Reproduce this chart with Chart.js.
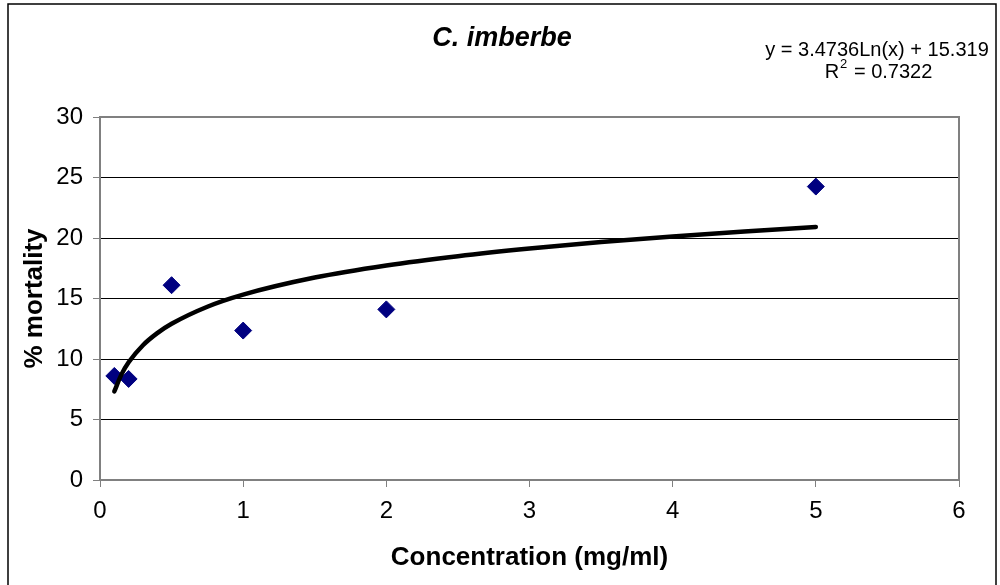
<!DOCTYPE html>
<html>
<head>
<meta charset="utf-8">
<script src="https://cdn.jsdelivr.net/npm/chart.js@4"></script>
<style>
  html, body { margin: 0; padding: 0; background: #fff; }
  #wrap { width: 1000px; height: 585px; position: relative; }
</style>
</head>
<body>
<div id="wrap"><canvas id="chart" width="1000" height="585"></canvas></div>
<script>
// measured points
const concentration = [0.1, 0.2, 0.5, 1, 2, 5];
const mortality = [8.6, 8.35, 16.1, 12.35, 14.1, 24.25];

// log trend line
const trendX = [0.1, 0.15, 0.2, 0.3, 0.4, 0.5, 0.75, 1, 1.5, 2, 2.5, 3, 3.5, 4, 4.5, 5];
const trendY = [7.32, 8.73, 9.73, 11.14, 12.14, 12.91, 14.32, 15.32, 16.73, 17.73, 18.5, 19.13, 19.67, 20.13, 20.54, 20.91];

const xTicks = [0, 1, 2, 3, 4, 5, 6];
const yTicks = [0, 5, 10, 15, 20, 25, 30];

const chartTitle = 'C. imberbe';
const equation = 'y = 3.4736Ln(x) + 15.319';
const rSquared = ['R', '2', ' = 0.7322'];

const FONT = '"Liberation Sans", Arial, sans-serif';
const GRAY = '#808080';

// frame around plot area + outer border + title/equation text
const decorations = {
  id: 'decorations',
  beforeDatasetsDraw(chart) {
    const { ctx, chartArea: a } = chart;
    ctx.save();
    ctx.strokeStyle = GRAY;
    ctx.lineWidth = 2;
    ctx.beginPath();
    ctx.moveTo(a.left, a.top);
    ctx.lineTo(a.right, a.top);
    ctx.lineTo(a.right, a.bottom);
    ctx.stroke();
    ctx.restore();
  },
  afterDraw(chart) {
    const { ctx } = chart;
    ctx.save();
    ctx.strokeStyle = '#000';
    ctx.lineWidth = 1.5;
    ctx.strokeRect(8, 4, 988, 590);

    ctx.fillStyle = '#000';
    ctx.textAlign = 'center';
    ctx.textBaseline = 'middle';
    ctx.font = 'italic bold 27px ' + FONT;
    ctx.fillText(chartTitle, 502, 39);

    ctx.font = '20px ' + FONT;
    ctx.fillText(equation, 877, 50);

    // R² line with a raised small 2
    const big = '20px ' + FONT, small = '13px ' + FONT;
    ctx.font = big;
    const wR = ctx.measureText(rSquared[0]).width;
    const wRest = ctx.measureText(rSquared[2]).width;
    ctx.font = small;
    const w2 = ctx.measureText(rSquared[1]).width + 1;
    let x = 878 - (wR + w2 + wRest) / 2;
    ctx.textAlign = 'left';
    ctx.font = big;
    ctx.fillText(rSquared[0], x, 72);
    x += wR + 1;
    ctx.font = small;
    ctx.fillText(rSquared[1], x, 64);
    x += w2;
    ctx.font = big;
    ctx.fillText(rSquared[2], x, 72);
    ctx.restore();
  }
};

new Chart(document.getElementById('chart'), {
  type: 'scatter',
  data: {
    datasets: [
      {
        label: 'mortality',
        data: concentration.map((x, i) => ({ x: x, y: mortality[i] })),
        backgroundColor: '#000080',
        borderColor: '#000080',
        pointStyle: 'rectRot',
        pointRadius: 8.5,
        pointHoverRadius: 8.5,
        order: 1
      },
      {
        label: 'trend',
        data: trendX.map((x, i) => ({ x: x, y: trendY[i] })),
        showLine: true,
        borderColor: '#000',
        borderWidth: 4.5,
        borderCapStyle: 'round',
        cubicInterpolationMode: 'monotone',
        pointRadius: 0,
        pointHoverRadius: 0,
        order: 0
      }
    ]
  },
  options: {
    responsive: false,
    animation: false,
    events: [],
    layout: { padding: { top: 117, left: 0, right: 41, bottom: 0 } },
    plugins: {
      legend: { display: false },
      title: { display: false },
      tooltip: { enabled: false }
    },
    scales: {
      x: {
        type: 'linear',
        min: 0,
        max: 6,
        afterFit(scale) { scale.height = 105; },
        afterBuildTicks(scale) { scale.ticks = xTicks.map(v => ({ value: v })); },
        border: { color: GRAY, width: 2 },
        grid: { drawOnChartArea: false, drawTicks: true, tickLength: 7, tickColor: GRAY, tickWidth: 1 },
        ticks: { color: '#000', font: { family: FONT, size: 24 }, padding: 10, maxRotation: 0 },
        title: {
          display: true,
          text: 'Concentration (mg/ml)',
          color: '#000',
          font: { family: FONT, size: 26, weight: 'bold' },
          padding: { top: 0, bottom: 12 }
        }
      },
      y: {
        type: 'linear',
        min: 0,
        max: 30,
        afterFit(scale) { scale.width = 100; },
        afterBuildTicks(scale) { scale.ticks = yTicks.map(v => ({ value: v })); },
        border: { color: GRAY, width: 2 },
        grid: {
          color: c => (c.tick && (c.tick.value === 0 || c.tick.value === 30)) ? 'rgba(0,0,0,0)' : '#000',
          lineWidth: 1,
          tickLength: 7,
          tickColor: GRAY
        },
        ticks: { color: '#000', font: { family: FONT, size: 24 }, padding: 10 },
        title: {
          display: true,
          text: '% mortality',
          color: '#000',
          font: { family: FONT, size: 26, weight: 'bold' },
          padding: { top: 19, bottom: 0 }
        }
      }
    }
  },
  plugins: [decorations]
});
</script>
</body>
</html>
